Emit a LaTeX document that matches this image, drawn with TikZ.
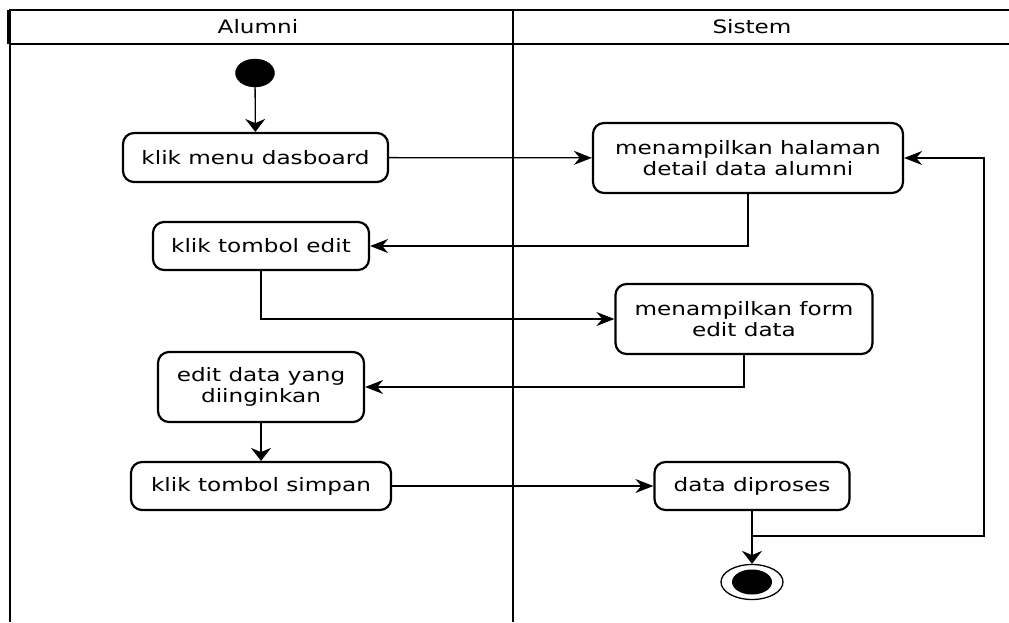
\documentclass[tikz,border=0pt]{standalone}
\usepackage{fontspec}
\setmainfont{DejaVu Sans}[FakeStretch=1.25]
\usetikzlibrary{arrows.meta,shapes.geometric}

\tikzset{
  aksi/.style={draw=black, line width=2.2pt, rounded corners=11pt, align=center, inner sep=0pt},
  garis/.style={black, line width=1.3pt},
  panah/.style={garis, -{Stealth[length=18pt,width=14pt]}},
  panahturun/.style={garis, -{Stealth[length=13pt,width=20pt]}},
}

\begin{document}
\begin{tikzpicture}[x=1pt,y=-1pt,font=\fontsize{18.5}{21}\selectfont]
  \useasboundingbox (0,0) rectangle (1009,622);
  \draw[garis] (10,622) -- (10,10) -- (1009,10);
  \draw[black, line width=4pt] (9,10) -- (9,44);
  \draw[garis] (10,44) -- (1009,44);
  \draw[garis] (513,10) -- (513,622);
  \node (alumni) at (258,27) {Alumni};
  \node (sistem) at (752,27) {Sistem};

  \node[draw, fill=black, ellipse, minimum width=39pt, minimum height=28pt, inner sep=0pt] (mulai) at (255,73) {};
  \node[aksi, minimum width=265pt, minimum height=49pt] (menu) at (255.5,157.5) {klik menu dasboard};
  \node[aksi, minimum width=310pt, minimum height=70pt] (halaman) at (748,158) {menampilkan halaman\\detail data alumni};
  \node[aksi, minimum width=216pt, minimum height=48pt] (edit) at (261,246) {klik tombol edit};
  \node[aksi, minimum width=257pt, minimum height=70pt] (form) at (744,319) {menampilkan form\\edit data};
  \node[aksi, minimum width=206pt, minimum height=70pt] (ubah) at (261,387) {edit data yang\\diinginkan};
  \node[aksi, minimum width=260pt, minimum height=48pt] (simpan) at (261,486) {klik tombol simpan};
  \node[aksi, minimum width=195pt, minimum height=48pt] (proses) at (752,486) {data diproses};
  \node[draw, ellipse, line width=1.3pt, minimum width=62pt, minimum height=35pt, inner sep=0pt] (selesai) at (752,582) {};
  \node[fill=black, ellipse, minimum width=40pt, minimum height=25pt, inner sep=0pt] (titik) at (752,582) {};

  \coordinate (balik) at (984,536);
  \coordinate (cabang) at (proses.south |- balik);

  \draw[panahturun] (mulai) -- (menu);
  \draw[panah] (menu) -- (halaman);
  \draw[panah] (halaman.south) |- (edit.east);
  \draw[panah] (edit.south) |- (form.west);
  \draw[panah] (form.south) |- (ubah.east);
  \draw[panahturun] (ubah) -- (simpan);
  \draw[panah] (simpan) -- (proses);
  \draw[panahturun] (proses) -- (selesai);
  \draw[panah] (cabang) -- (balik) |- (halaman.east);
\end{tikzpicture}
\end{document}
